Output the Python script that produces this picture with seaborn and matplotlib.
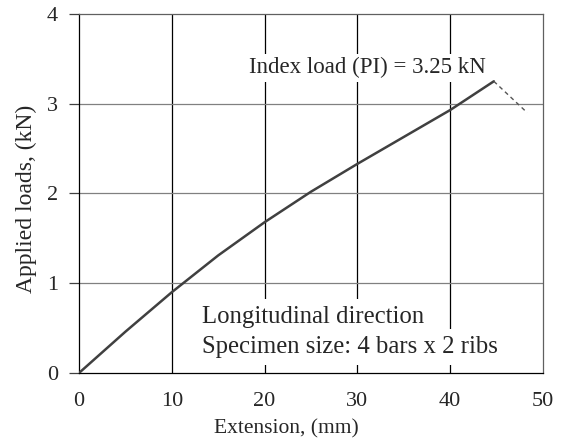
import matplotlib
matplotlib.use("Agg")
import matplotlib.pyplot as plt
import seaborn as sns
import pandas as pd

# Load-extension curve of the bar specimen
extension = [0, 5, 10, 15, 20, 25, 30, 35, 40, 44.7]
load = [0, 0.46, 0.90, 1.31, 1.68, 2.02, 2.33, 2.63, 2.93, 3.25]
# Post-peak drop after the index load
post_ext = [44.7, 48.3]
post_load = [3.25, 2.90]

x_ticks = [0, 10, 20, 30, 40, 50]
y_ticks = [0, 1, 2, 3, 4]

sns.set_style("white")
plt.rcParams["font.family"] = ["Liberation Serif", "DejaVu Serif"]

fig = plt.figure(figsize=(5.63, 4.41), dpi=100)
ax = fig.add_axes([0.1403, 0.1542, 0.8242, 0.8141])

curve = pd.DataFrame({"Extension": extension, "Load": load})
post = pd.DataFrame({"Extension": post_ext, "Load": post_load})

sns.lineplot(data=curve, x="Extension", y="Load", ax=ax, color="#404040",
             linewidth=1.8, zorder=3)
sns.lineplot(data=post, x="Extension", y="Load", ax=ax, color="#555555",
             linewidth=1.0, linestyle=(0, (3, 2.5)), zorder=3)

ax.set_xlim(0, 50)
ax.set_ylim(0, 4)
ax.set_xticks(x_ticks)
ax.set_yticks(y_ticks)

# vertical grid black, horizontal grid gray
for xv in x_ticks[1:-1]:
    ax.axvline(xv, color="black", linewidth=0.9, zorder=1)
for yv in y_ticks[1:-1]:
    ax.axhline(yv, color="#808080", linewidth=0.9, zorder=1)

for s in ax.spines.values():
    s.set_visible(True)
    s.set_color("black")
    s.set_linewidth(0.9)
ax.spines["top"].set_color("#606060")
ax.spines["right"].set_color("#606060")

ax.tick_params(axis="y", direction="out", length=7, width=0.9, color="#404040",
               labelsize=16, pad=8, left=True)
ax.tick_params(axis="x", length=0, labelsize=16, pad=14)

ax.set_xlabel("Extension, (mm)", fontsize=15.5)
ax.xaxis.set_label_coords(0.446, -0.128)
ax.set_ylabel("Applied loads, (kN)", fontsize=17)
ax.yaxis.set_label_coords(-0.09, 0.485)

box = dict(facecolor="white", edgecolor="none", pad=2.5)
ax.text(31.1, 3.34, "Index load (PI) = 3.25 kN", fontsize=16.5,
        ha="center", va="baseline", bbox=box, zorder=4)
box2 = dict(facecolor="white", edgecolor="none", pad=5)
ax.text(13.25, 0.557, "Longitudinal direction", fontsize=17.8,
        ha="left", va="baseline", bbox=box2, zorder=4)
ax.text(13.25, 0.223, "Specimen size: 4 bars x 2 ribs", fontsize=17.8,
        ha="left", va="baseline", bbox=box2, zorder=4)

fig.savefig("out.png", dpi=100)
